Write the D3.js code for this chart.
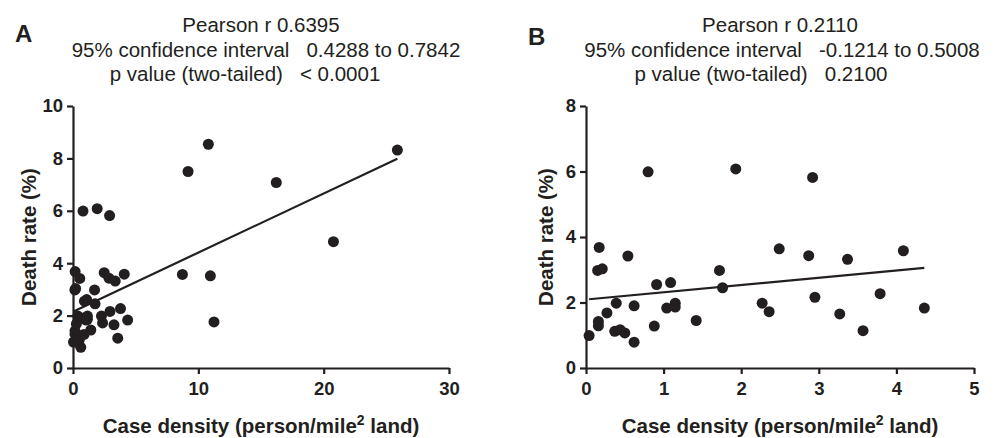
<!DOCTYPE html>
<html>
<head>
<meta charset="utf-8">
<script src="https://cdn.jsdelivr.net/npm/d3@7/dist/d3.min.js"></script>
<style>
  body { margin: 0; background: #fff; }
  svg { display: block; font-family: "Liberation Sans", Arial, sans-serif; }
  .tick text { font-weight: bold; font-size: 18.5px; fill: #231f20; }
  .domain, .tick line { stroke: #231f20; stroke-width: 2.2px; }
</style>
</head>
<body>
<div id="chart"></div>
<script>
// counties with case density < 5 (shown in both panels)
var densityLow = [0.04, 0.16, 0.16, 0.27, 0.39, 0.37, 0.44, 0.50, 0.62, 0.62,
                  0.54, 0.15, 0.21, 0.17, 0.91, 0.88, 1.09, 1.04, 1.15, 1.15,
                  1.42, 1.72, 1.76, 2.27, 2.36, 2.49, 2.87, 2.95, 3.27, 3.37,
                  3.57, 3.79, 4.09, 4.36, 0.80, 1.93, 2.92];
var deathLow   = [0.99, 1.42, 1.29, 1.68, 1.98, 1.12, 1.17, 1.07, 1.90, 0.79,
                  3.42, 2.98, 3.03, 3.68, 2.55, 1.28, 2.61, 1.83, 1.98, 1.86,
                  1.45, 2.98, 2.45, 1.98, 1.72, 3.64, 3.43, 2.16, 1.65, 3.32,
                  1.14, 2.27, 3.58, 1.83, 5.99, 6.08, 5.82];
// high density counties (only in panel A)
var densityHigh = [8.73, 9.18, 10.80, 10.96, 11.25, 16.22, 20.78, 25.88];
var deathHigh   = [3.57, 7.50, 8.54, 3.52, 1.76, 7.08, 4.82, 8.32];

// regression lines
var fitIntercept = [2.15, 2.09];
var fitSlope = [0.2255, 0.222];

var panelLabels = ["A", "B"];
var statsA = ["Pearson r 0.6395", "95% confidence interval   0.4288 to 0.7842", "p value (two-tailed)   < 0.0001"];
var statsB = ["Pearson r 0.2110", "95% confidence interval   -0.1214 to 0.5008", "p value (two-tailed)   0.2100"];
var xTicksA = [0, 10, 20, 30], yTicksA = [0, 2, 4, 6, 8, 10];
var xTicksB = [0, 1, 2, 3, 4, 5], yTicksB = [0, 2, 4, 6, 8];

var ink = "#231f20";

var svg = d3.select("#chart").append("svg")
  .attr("width", 995)
  .attr("height", 438);

function zip(xs, ys) {
  return xs.map(function(x, i) { return {x: x, y: ys[i]}; });
}

var panels = [
  { label: panelLabels[0], stats: statsA, pts: zip(densityLow.concat(densityHigh), deathLow.concat(deathHigh)),
    xTicks: xTicksA, yTicks: yTicksA, left: 73, right: 449, top: 106, bottom: 368,
    labelX: 15, labelY: 42, statX: [261, 266, 245], ytitleX: 36 },
  { label: panelLabels[1], stats: statsB, pts: zip(densityLow, deathLow),
    xTicks: xTicksB, yTicks: yTicksB, left: 586, right: 974, top: 106, bottom: 368,
    labelX: 528, labelY: 45, statX: [780, 782, 761], ytitleX: 553 }
];

panels.forEach(function(p, k) {
  var g = svg.append("g");

  var x = d3.scaleLinear()
    .domain(d3.extent(p.xTicks))
    .range([p.left, p.right]);
  var y = d3.scaleLinear()
    .domain(d3.extent(p.yTicks))
    .range([p.bottom, p.top]);

  // panel letter
  g.append("text")
    .attr("x", p.labelX)
    .attr("y", p.labelY)
    .style("font-weight", "bold")
    .style("font-size", "24px")
    .style("fill", ink)
    .text(p.label);

  // stats block
  p.stats.forEach(function(s, i) {
    g.append("text")
      .attr("x", p.statX[i])
      .attr("y", 32 + i * 24.5)
      .attr("text-anchor", "middle")
      .style("white-space", "pre")
      .style("font-size", "20.5px")
      .style("fill", ink)
      .text(s);
  });

  // axes
  g.append("g")
    .attr("transform", "translate(0," + p.bottom + ")")
    .call(d3.axisBottom(x).tickValues(p.xTicks).tickFormat(d3.format("d"))
      .tickSize(6).tickSizeOuter(0).tickPadding(8));
  g.append("g")
    .attr("transform", "translate(" + p.left + ",0)")
    .call(d3.axisLeft(y).tickValues(p.yTicks).tickFormat(d3.format("d"))
      .tickSize(6).tickSizeOuter(0).tickPadding(4));
  g.selectAll(".tick text").attr("fill", ink);

  // axis titles
  var xt = g.append("text")
    .attr("x", (p.left + p.right) / 2)
    .attr("y", 433)
    .attr("text-anchor", "middle")
    .style("font-weight", "bold")
    .style("font-size", "20.5px")
    .style("fill", ink);
  xt.append("tspan").text("Case density (person/mile");
  xt.append("tspan").attr("dy", -8).style("font-size", "14px").text("2");
  xt.append("tspan").attr("dy", 8).text(" land)");

  g.append("text")
    .attr("transform", "translate(" + p.ytitleX + "," + (p.top + p.bottom) / 2 + ") rotate(-90)")
    .attr("text-anchor", "middle")
    .style("font-weight", "bold")
    .style("font-size", "20.5px")
    .style("fill", ink)
    .text("Death rate (%)");

  // regression line across the data range
  var xr = d3.extent(p.pts, function(d) { return d.x; });
  g.append("line")
    .attr("x1", x(xr[0]))
    .attr("y1", y(fitIntercept[k] + fitSlope[k] * xr[0]))
    .attr("x2", x(xr[1]))
    .attr("y2", y(fitIntercept[k] + fitSlope[k] * xr[1]))
    .style("stroke", ink)
    .style("stroke-width", 2.2);

  // points
  g.selectAll(".dot")
    .data(p.pts)
    .enter().append("circle")
    .attr("class", "dot")
    .attr("cx", function(d) { return x(d.x); })
    .attr("cy", function(d) { return y(d.y); })
    .attr("r", 5.5)
    .style("fill", ink);
});
</script>
</body>
</html>
